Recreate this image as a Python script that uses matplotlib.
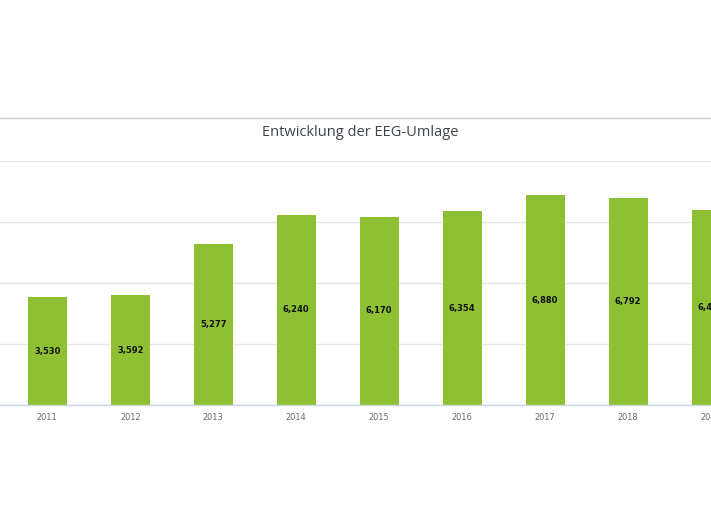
import matplotlib
matplotlib.use("Agg")
import matplotlib.pyplot as plt
from matplotlib.lines import Line2D

years = ["2011", "2012", "2013", "2014", "2015", "2016", "2017", "2018", "2019"]
values = [3.530, 3.592, 5.277, 6.240, 6.170, 6.354, 6.880, 6.792, 6.405]
labels = ["3,530", "3,592", "5,277", "6,240", "6,170", "6,354", "6,880", "6,792", "6,405"]
title = "Entwicklung der EEG-Umlage"

W, H = 711, 512
fig = plt.figure(figsize=(W / 100, H / 100), dpi=100)
fig.patch.set_facecolor("white")

# axes: baseline at y=405px, top (8) at y=161px
ax = fig.add_axes([0, (H - 405) / H, 1, (405 - 161) / H])
ax.set_facecolor("white")

x = list(range(len(years)))
ax.bar(x, values, width=0.47, color="#8dc133", zorder=3)
for xi, v, lab in zip(x, values, labels):
    ax.text(xi, v / 2, lab, ha="center", va="center", fontsize=6.0,
            fontweight="bold", color="#111111", family="DejaVu Sans", zorder=4)

ax.set_ylim(0, 8)
ax.set_xlim(-0.57, 8.0)
ax.set_yticks([0, 2, 4, 6, 8])
ax.yaxis.grid(True, color="#e6e6e6", linewidth=1.0, zorder=0)
ax.set_yticklabels([])
ax.tick_params(axis="y", length=0)
ax.set_xticks(x)
ax.set_xticklabels(years, fontsize=5.9, color="#666666", family="DejaVu Sans")
ax.tick_params(axis="x", length=0, pad=6)
for s in ["top", "left", "right"]:
    ax.spines[s].set_visible(False)
ax.spines["bottom"].set_color("#ccd6eb")
ax.spines["bottom"].set_linewidth(1.0)
ax.spines["bottom"].set_zorder(5)

# top border line
fig.add_artist(Line2D([0, 1], [(H - 118) / H, (H - 118) / H], color="#cccccc",
                      linewidth=1.0, transform=fig.transFigure))

fig.text(360 / W, (H - 132.5) / H, title, ha="center", va="center",
         fontsize=10.5, color="#3d4350", family="Open Sans")

fig.savefig("out.png", dpi=100, facecolor="white")
